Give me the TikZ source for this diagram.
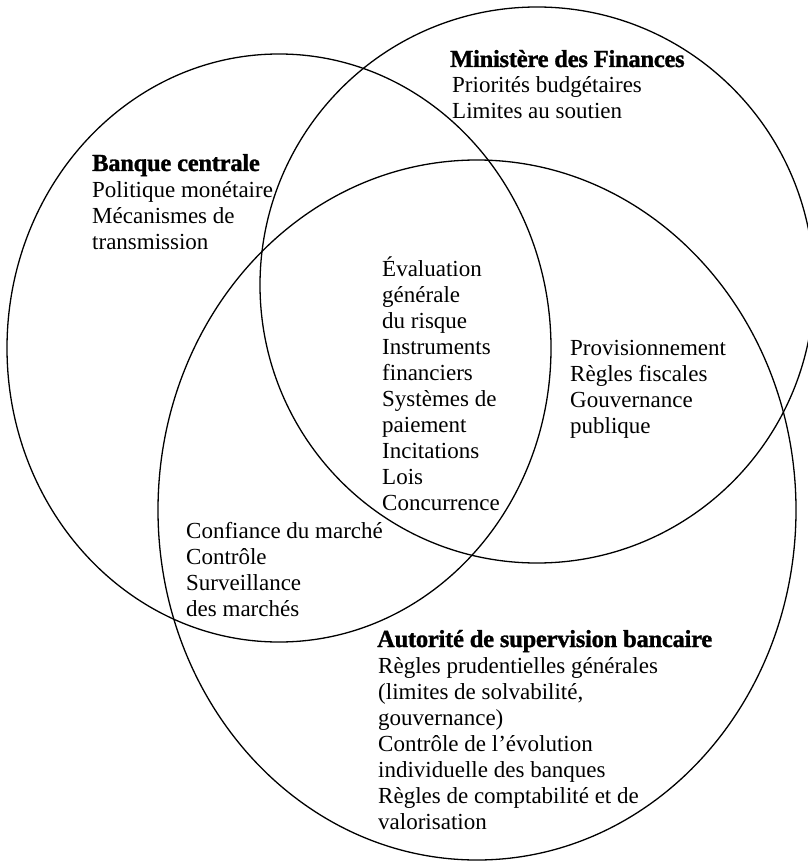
\documentclass[tikz,border=0pt]{standalone}
\usepackage{fontspec}
\setmainfont{Liberation Serif}
\newfontfamily\ttlfont{Liberation Serif}[BoldFont={* Bold},BoldFeatures={FakeBold=1.2,LetterSpace=-1}]
\begin{document}
\begin{tikzpicture}[x=1pt,y=-1pt,
  venn/.style={draw=black,line width=1.3pt},
  body/.style={anchor=base west,inner sep=0pt,align=left,font=\fontsize{23}{26}\selectfont},
  ttl/.style={anchor=base west,inner sep=0pt,font=\ttlfont\fontsize{24.5}{26}\selectfont\bfseries}]
\useasboundingbox (0,0) rectangle (807,861);
% ellipses
\draw[venn] (279,348) ellipse [x radius=272pt, y radius=294pt];
\draw[venn] (537,285) ellipse [x radius=277pt, y radius=278pt];
\draw[venn] (477,510) ellipse [x radius=319pt, y radius=350pt];
% titles
\node[ttl] (tmin) at (450,67) {Ministère des Finances};
\node[ttl] (tbc) at (92,171) {Banque centrale};
\node[ttl] (tasb) at (377,647) {Autorité de supervision bancaire};
% texts (anchor = baseline of the last line)
\node[body] (min) at (452,119) {Priorités budgétaires\\Limites au soutien};
\node[body] (bc) at (92,249) {Politique monétaire\\Mécanismes de\\transmission};
\node[body] (ctr) at (382,510) {Évaluation\\générale\\du risque\\Instruments\\financiers\\Systèmes de\\paiement\\Incitations\\Lois\\Concurrence};
\node[body] (prov) at (570,433) {Provisionnement\\Règles fiscales\\Gouvernance\\publique};
\node[body] (conf) at (186,616) {Confiance du marché\\Contrôle\\Surveillance\\des marchés};
\node[body] (asb) at (378,829) {Règles prudentielles générales\\(limites de solvabilité,\\gouvernance)\\Contrôle de l’évolution\\individuelle des banques\\Règles de comptabilité et de\\valorisation};
\end{tikzpicture}
\end{document}
